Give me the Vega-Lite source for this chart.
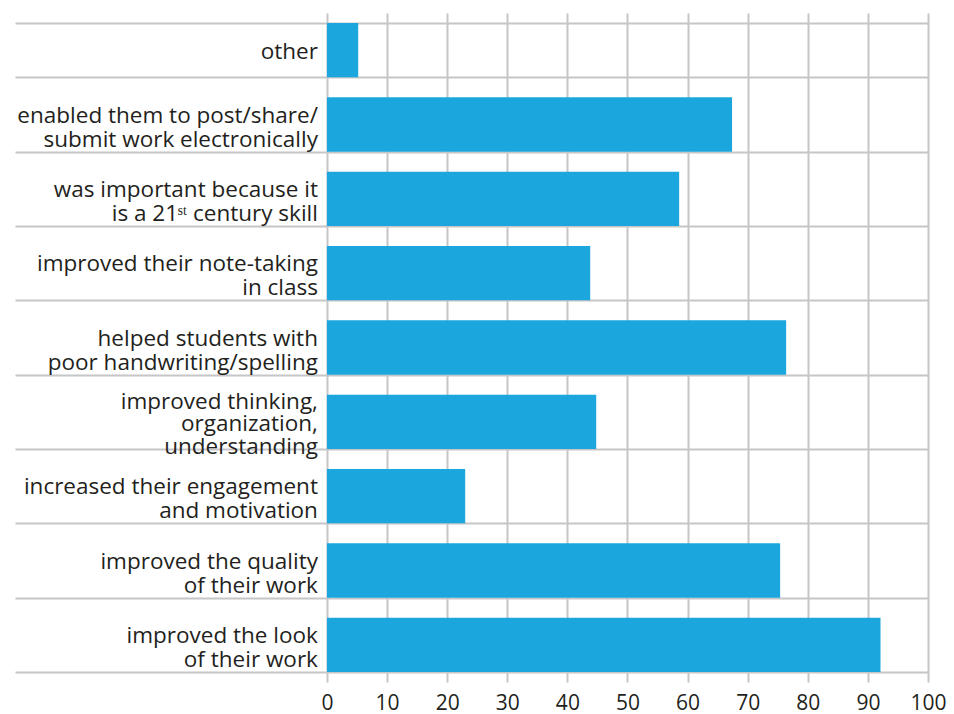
{
  "$schema": "https://vega.github.io/schema/vega-lite/v6.json",
  "width": 913,
  "height": 669,
  "autosize": {"type": "none"},
  "padding": {"left": 15, "top": 13, "right": 26, "bottom": 32},
  "background": "white",
  "config": {
    "view": {"stroke": null},
    "font": "Open Sans"
  },
  "data": {
    "values": [
      {"label": "other", "value": 5.2},
      {"label": "enabled them to post/share/\nsubmit work electronically", "value": 67.4},
      {"label": "was important because it \nis a 21ˢᵗ century skill", "value": 58.6},
      {"label": "improved their note-taking\nin class", "value": 43.8},
      {"label": "helped students with\npoor handwriting/spelling", "value": 76.4},
      {"label": "improved thinking, \norganization, \nunderstanding", "value": 44.8},
      {"label": "increased their engagement\nand motivation", "value": 23.0},
      {"label": "improved the quality\nof their work", "value": 75.4},
      {"label": "improved the look\nof their work", "value": 92.1}
    ]
  },
  "encoding": {
    "y": {
      "field": "label",
      "type": "nominal",
      "sort": null,
      "scale": {"paddingInner": 0.27, "paddingOuter": 0.135},
      "axis": {
        "labels": false,
        "ticks": false,
        "domain": false,
        "title": null,
        "grid": true,
        "tickBand": "extent",
        "gridColor": "#c6c6c8",
        "gridWidth": 2,
        "gridOpacity": 1
      }
    }
  },
  "layer": [
    {
      "mark": {"type": "bar", "color": "#1ba7de"},
      "encoding": {
        "x": {
          "field": "value",
          "type": "quantitative",
          "scale": {"domain": [-51.9, 100], "nice": false, "zero": false},
          "axis": {
            "values": [0, 10, 20, 30, 40, 50, 60, 70, 80, 90, 100],
            "title": null,
            "domain": false,
            "ticks": false,
            "grid": true,
            "gridColor": "#c6c6c8",
            "gridWidth": 2,
            "gridOpacity": 1,
            "labelFontSize": 21,
            "labelColor": "#231f20",
            "labelPadding": 10,
            "labelFlush": false,
            "labelFont": "Open Sans"
          }
        },
        "x2": {"datum": 0}
      }
    },
    {
      "transform": [{"filter": "length(split(datum.label, '\\n')) == 1"}],
      "mark": {
        "type": "text",
        "align": "right",
        "baseline": "middle",
        "fontSize": 22.5,
        "dy": 2,
        "color": "#231f20"
      },
      "encoding": {
        "x": {"datum": -1.5},
        "text": {"field": "label"}
      }
    },
    {
      "transform": [{"filter": "length(split(datum.label, '\\n')) == 2"}],
      "mark": {
        "type": "text",
        "align": "right",
        "baseline": "middle",
        "lineBreak": "\n",
        "fontSize": 22.5,
        "lineHeight": 24,
        "dy": -9,
        "color": "#231f20"
      },
      "encoding": {
        "x": {"datum": -1.5},
        "text": {"field": "label"}
      }
    },
    {
      "transform": [{"filter": "length(split(datum.label, '\\n')) == 3"}],
      "mark": {
        "type": "text",
        "align": "right",
        "baseline": "middle",
        "lineBreak": "\n",
        "fontSize": 22.5,
        "lineHeight": 22.5,
        "dy": -20,
        "color": "#231f20"
      },
      "encoding": {
        "x": {"datum": -1.5},
        "text": {"field": "label"}
      }
    }
  ]
}
